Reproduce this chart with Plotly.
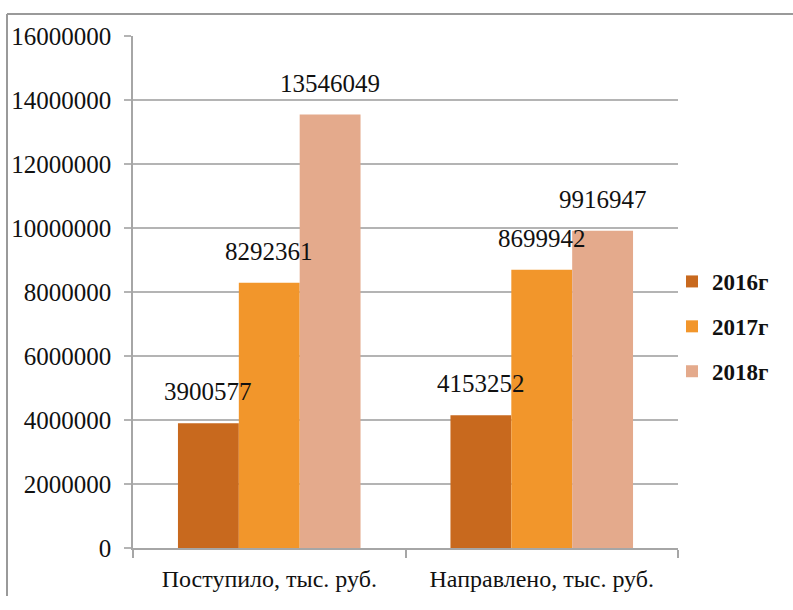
import plotly.graph_objects as go

categories = ["Поступило, тыс. руб.", "Направлено, тыс. руб."]
series_names = ["2016г", "2017г", "2018г"]
values_2016 = [3900577, 4153252]
values_2017 = [8292361, 8699942]
values_2018 = [13546049, 9916947]
colors = ["#C8691E", "#F2962B", "#E4AA8C"]
y_ticks = [0, 2000000, 4000000, 6000000, 8000000, 10000000, 12000000, 14000000, 16000000]

W, H = 793, 610
font_family = "Liberation Serif, Times New Roman, serif"
X0, X1 = 133, 678
Y0, Y1 = 560, 24
bargap = 0.33
cat_w = (X1 - X0) / len(categories)
bar_w = cat_w * (1 - bargap) / len(series_names)

all_series = [values_2016, values_2017, values_2018]

fig = go.Figure()
annotations = []
for i, (name, vals) in enumerate(zip(series_names, all_series)):
    fig.add_trace(go.Bar(
        x=categories, y=vals, name=name,
        marker=dict(color=colors[i], line=dict(width=0)),
        legendgroup=name, hoverinfo="skip",
    ))
    for c, v in zip(categories, vals):
        annotations.append(dict(
            x=c, y=v, xref="x", yref="y", text=str(v), showarrow=False,
            xanchor="center", yanchor="bottom",
            xshift=(i - (len(series_names) - 1) / 2) * bar_w, yshift=16,
            font=dict(family=font_family, size=25, color="#111111"),
        ))

fig.update_layout(
    width=W, height=H,
    margin=dict(l=0, r=0, t=0, b=0),
    paper_bgcolor="white", plot_bgcolor="white",
    barmode="group", bargap=bargap, bargroupgap=0,
    font=dict(family=font_family, size=24, color="#111111"),
    showlegend=True,
    legend=dict(
        x=672 / W, y=(H - 328) / H, xanchor="left", yanchor="middle",
        font=dict(family=font_family, size=23, color="#111111", weight="bold"),
        tracegroupgap=12, itemwidth=30, bgcolor="rgba(0,0,0,0)",
    ),
    xaxis=dict(
        domain=[X0 / W, X1 / W],
        showline=True, linecolor="#a6a6a6", linewidth=1.5,
        ticks="outside", ticklen=8, tickcolor="#a6a6a6", tickwidth=1.5,
        tickson="boundaries", ticklabelstandoff=8,
        tickfont=dict(family=font_family, size=24, color="#111111"),
        showgrid=False,
    ),
    yaxis=dict(
        domain=[(H - Y0) / H, (H - Y1) / H],
        range=[0, 16000000], tickvals=y_ticks, ticktext=[str(v) for v in y_ticks],
        showline=True, linecolor="#a6a6a6", linewidth=1.5,
        ticks="outside", ticklen=7, tickcolor="#b4b4b4", tickwidth=1.5,
        showgrid=True, gridcolor="#b4b4b4", gridwidth=1.5,
        ticklabelstandoff=8,
        tickfont=dict(family=font_family, size=25, color="#111111"),
        zeroline=False,
    ),
    annotations=annotations,
    shapes=[
        dict(type="line", xref="paper", yref="paper", x0=7 / W, x1=7 / W, y0=0, y1=(H - 1) / H,
             line=dict(color="#9a9a9a", width=2)),
        dict(type="line", xref="paper", yref="paper", x0=7 / W, x1=1, y0=(H - 1) / H, y1=(H - 1) / H,
             line=dict(color="#9a9a9a", width=2)),
    ],
)

fig.write_html("out.html")
